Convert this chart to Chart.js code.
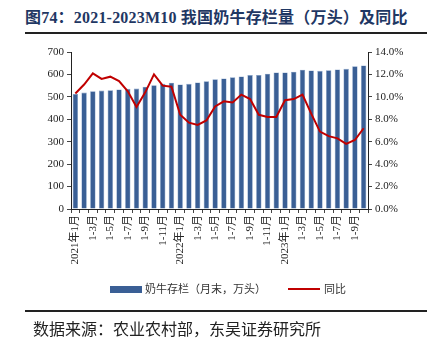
<!DOCTYPE html>
<html>
<head>
<meta charset="utf-8">
<script src="https://cdn.jsdelivr.net/npm/chart.js@4.4.0/dist/chart.umd.min.js"></script>
<style>
  html, body { margin: 0; padding: 0; background: #fff; }
  body { width: 430px; height: 349px; position: relative; overflow: hidden; }
  #title { position: absolute; left: 25px; top: 4px; font: bold 16px "Liberation Serif", "Noto Sans CJK SC", serif; color: #1F3763; white-space: nowrap; letter-spacing: 0.2px; }
  .rule { position: absolute; left: 25px; width: 402px; height: 2px; background: #222; }
  #wrap { position: absolute; left: 0; top: 0; width: 430px; height: 300px; }
  #legend { position: absolute; top: 280px; left: 0; width: 430px; height: 16px; font: 11px "Noto Sans CJK SC", sans-serif; color: #333; }
  .lg { position: absolute; top: 0; white-space: nowrap; line-height: 16px; }
  #footer { position: absolute; left: 33px; top: 316px; font: 16px "Noto Sans CJK SC", sans-serif; color: #222; white-space: nowrap; }
</style>
</head>
<body>
<div id="title">图74：2021-2023M10 我国奶牛存栏量（万头）及同比</div>
<div class="rule" style="top:32px"></div>
<div id="wrap"><canvas id="c"></canvas></div>
<div id="legend"></div>
<div class="rule" style="top:310px"></div>
<div id="footer">数据来源：农业农村部，东吴证券研究所</div>
<script>
const months = ['2021-01','2021-02','2021-03','2021-04','2021-05','2021-06','2021-07','2021-08','2021-09','2021-10','2021-11','2021-12',
  '2022-01','2022-02','2022-03','2022-04','2022-05','2022-06','2022-07','2022-08','2022-09','2022-10','2022-11','2022-12',
  '2023-01','2023-02','2023-03','2023-04','2023-05','2023-06','2023-07','2023-08','2023-09','2023-10'];
const tickLabels = ['2021年1月','1-3月','1-5月','1-7月','1-9月','1-11月','2022年1月','1-3月','1-5月','1-7月','1-9月','1-11月','2023年1月','1-3月','1-5月','1-7月','1-9月'];
const stock = [513,519,525,528,530,533,536,537,545,552,558,563,555,558,564,570,578,582,587,591,597,598,603,609,609,612,621,618,616,619,622,625,636,640];
const yoy = [10.3,11.1,12.1,11.6,11.8,11.4,10.5,9.1,10.4,12.0,11.0,10.9,8.4,7.7,7.5,7.9,9.15,9.6,9.5,10.2,9.8,8.4,8.2,8.2,9.7,9.8,10.2,8.5,6.9,6.5,6.3,5.8,6.15,7.2];
const seriesNames = ['奶牛存栏（月末，万头）','同比'];
const yTicks = {min:0, max:700, step:100};
const y1Ticks = {min:0, max:14, step:2};

const BAR = '#3A5F95', LINE = '#C00000';
const serif = '"Liberation Serif", "Noto Sans CJK SC", serif';

new Chart(document.getElementById('c'), {
  data: {
    labels: months,
    datasets: [
      { type:'line', label: seriesNames[1], data: yoy, yAxisID:'y1', borderColor: LINE, backgroundColor: LINE, borderWidth: 2, pointRadius: 0, tension: 0, order: 0 },
      { type:'bar', label: seriesNames[0], data: stock, yAxisID:'y', backgroundColor: BAR, borderColor: '#7F9CC4', borderWidth: {left:0.6,right:0.6,top:0.6,bottom:0}, barPercentage: 0.62, categoryPercentage: 1.0, order: 1 }
    ]
  },
  options: {
    responsive: true, maintainAspectRatio: false, animation: false,
    devicePixelRatio: 1,
    layout: { padding: { top: 52, left: 0, right: 0, bottom: 0 } },
    plugins: { legend: { display: false }, tooltip: { enabled: false } },
    scales: {
      x: {
        offset: true,
        grid: { display: true, drawOnChartArea: false, offset: true, tickLength: 4, color: '#444' },
        border: { display: true, color: '#222', width: 1 },
        ticks: {
          autoSkip: false, maxRotation: 90, minRotation: 90, padding: 2, color: '#222',
          font: { family: serif, size: 11 },
          callback: (v, i) => i % 2 === 0 ? tickLabels[i/2] : ''
        },
        afterFit: s => { s.height = 91; }
      },
      y: {
        position: 'left', min: yTicks.min, max: yTicks.max,
        grid: { display: true, drawOnChartArea: false, tickLength: 4, color: '#444' },
        border: { display: true, color: '#222', width: 1 },
        ticks: { stepSize: yTicks.step, color: '#222', padding: 3, font: { family: serif, size: 11 } },
        afterFit: s => { s.width = 71; }
      },
      y1: {
        position: 'right', min: y1Ticks.min, max: y1Ticks.max,
        grid: { display: true, drawOnChartArea: false, tickLength: 4, color: '#444' },
        border: { display: true, color: '#222', width: 1 },
        ticks: { stepSize: y1Ticks.step, color: '#222', padding: 3, font: { family: serif, size: 11 }, callback: v => v.toFixed(1) + '%' },
        afterFit: s => { s.width = 62; }
      }
    }
  }
});

const lg = document.getElementById('legend');
lg.innerHTML =
  '<div class="lg" style="left:110px"><span style="display:inline-block;width:32px;height:7px;background:'+BAR+';vertical-align:middle;margin-right:3px;position:relative;top:-1px"></span>' + seriesNames[0] + '</div>' +
  '<div class="lg" style="left:288px"><span style="display:inline-block;width:32px;height:2px;background:'+LINE+';vertical-align:middle;margin-right:4px;position:relative;top:-1px"></span>' + seriesNames[1] + '</div>';
</script>
</body>
</html>
